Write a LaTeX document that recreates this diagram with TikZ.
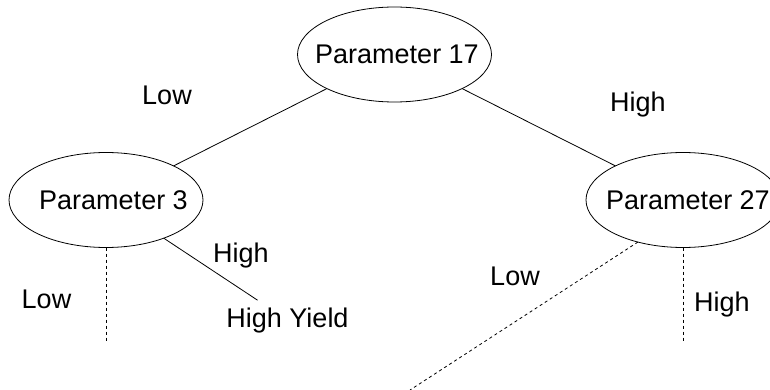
\documentclass[tikz,border=0pt]{standalone}
\usepackage{fontspec}
\setmainfont{Liberation Sans}
\usetikzlibrary{shapes.geometric}
\tikzset{
  lbl/.style={font=\fontsize{27}{31}\selectfont, inner sep=0pt},
  param/.style={ellipse, draw, line width=0.8pt, inner sep=0pt, outer sep=0pt,
    minimum width=194pt, minimum height=95pt, font=\fontsize{27}{31}\selectfont},
  solidedge/.style={line width=0.8pt},
  dashedge/.style={line width=0.8pt, dash pattern=on 3pt off 3pt},
}
\begin{document}
\begin{tikzpicture}[x=1pt,y=-1pt]
\useasboundingbox (0,0) rectangle (770,390);
\clip (0,0) rectangle (770,390);
\node[param] (p17) at (394.5,54.5) {\makebox[0pt]{\hspace*{5pt}Parameter 17}};
\node[param] (p3) at (106,200) {\makebox[0pt]{\hspace*{15pt}Parameter 3}};
\node[param] (p27) at (683,200) {\makebox[0pt]{\hspace*{10pt}Parameter 27}};
\node[lbl, inner sep=7pt, anchor=base] (hy) at (287.5,327) {High Yield};
\coordinate (e1) at (106,342);
\coordinate (e2) at (683,342);
\coordinate (e3) at (410,390);
\draw[solidedge] (p17) -- (p3);
\draw[solidedge] (p17) -- (p27);
\draw[solidedge] (p3) -- (hy);
\draw[dashedge] (p3.south) -- (e1);
\draw[dashedge] (p27.south) -- (e2);
\draw[dashedge] (p27.223) -- (e3);
\node[lbl, anchor=base] (l1) at (167,105) {Low};
\node[lbl, anchor=base] (h1) at (638,112) {High};
\node[lbl, anchor=base] (h2) at (241,262) {High};
\node[lbl, anchor=base] (l2) at (46.5,308) {Low};
\node[lbl, anchor=base] (l3) at (515,285) {Low};
\node[lbl, anchor=base] (h3) at (722,311) {High};
\end{tikzpicture}
\end{document}
